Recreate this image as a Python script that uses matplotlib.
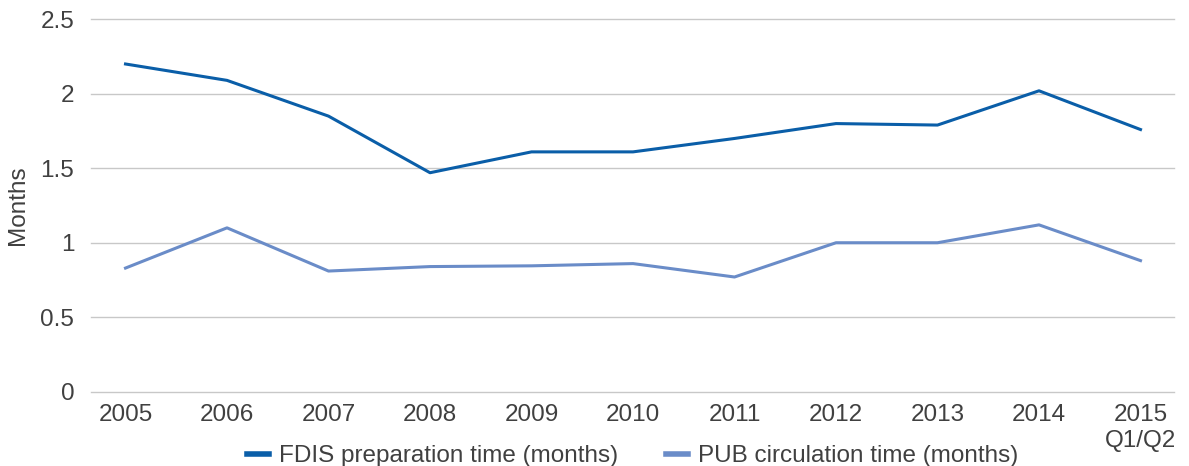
import matplotlib
matplotlib.use("Agg")
import matplotlib.pyplot as plt

years = ["2005", "2006", "2007", "2008", "2009", "2010", "2011", "2012", "2013", "2014", "2015\nQ1/Q2"]
fdis_prep = [2.2, 2.09, 1.85, 1.47, 1.61, 1.61, 1.70, 1.80, 1.79, 2.02, 1.76]
pub_circ = [0.83, 1.10, 0.81, 0.84, 0.845, 0.86, 0.77, 1.00, 1.00, 1.12, 0.88]

plt.rcParams['font.family'] = ['Liberation Sans', 'DejaVu Sans']
text_col = "#404040"

fig = plt.figure(figsize=(11.89, 4.66), dpi=100)
ax = fig.add_axes([91/1189, 1 - 391.7/466, (1174 - 91)/1189, (391.7 - 19.3)/466])

x = list(range(len(years)))
ax.plot(x, fdis_prep, color="#0a5ea8", lw=2.2, label="FDIS preparation time (months)")
ax.plot(x, pub_circ, color="#6a8cc8", lw=2.2, label="PUB circulation time (months)")

ax.set_ylim(0, 2.5)
ax.set_yticks([0, 0.5, 1, 1.5, 2, 2.5])
ax.set_yticklabels(["0", "0.5", "1", "1.5", "2", "2.5"])
ax.set_xlim(-0.34, 10.33)
ax.set_xticks(x)
ax.set_xticklabels(years)
ax.grid(axis="y", color="#c8c8c8", lw=1)
for gl in ax.get_ygridlines():
    gl.set_clip_on(False)
ax.set_axisbelow(True)
for s in ax.spines.values():
    s.set_visible(False)
ax.tick_params(length=0, labelsize=17.5, colors=text_col)
ax.tick_params(axis="y", pad=12)
ax.tick_params(axis="x", pad=9)
ax.set_ylabel("Months", fontsize=17.5, color=text_col)
ax.yaxis.set_label_coords(-0.057, 0.5)

leg = ax.legend(loc="upper center", bbox_to_anchor=(0.5, -0.085), ncol=2, frameon=False,
                fontsize=17.5, handlelength=0.9, handletextpad=0.4, columnspacing=2.0)
for t in leg.get_texts():
    t.set_color(text_col)
for h in leg.get_lines():
    h.set_linewidth(4)

fig.savefig("out.png", dpi=100)
